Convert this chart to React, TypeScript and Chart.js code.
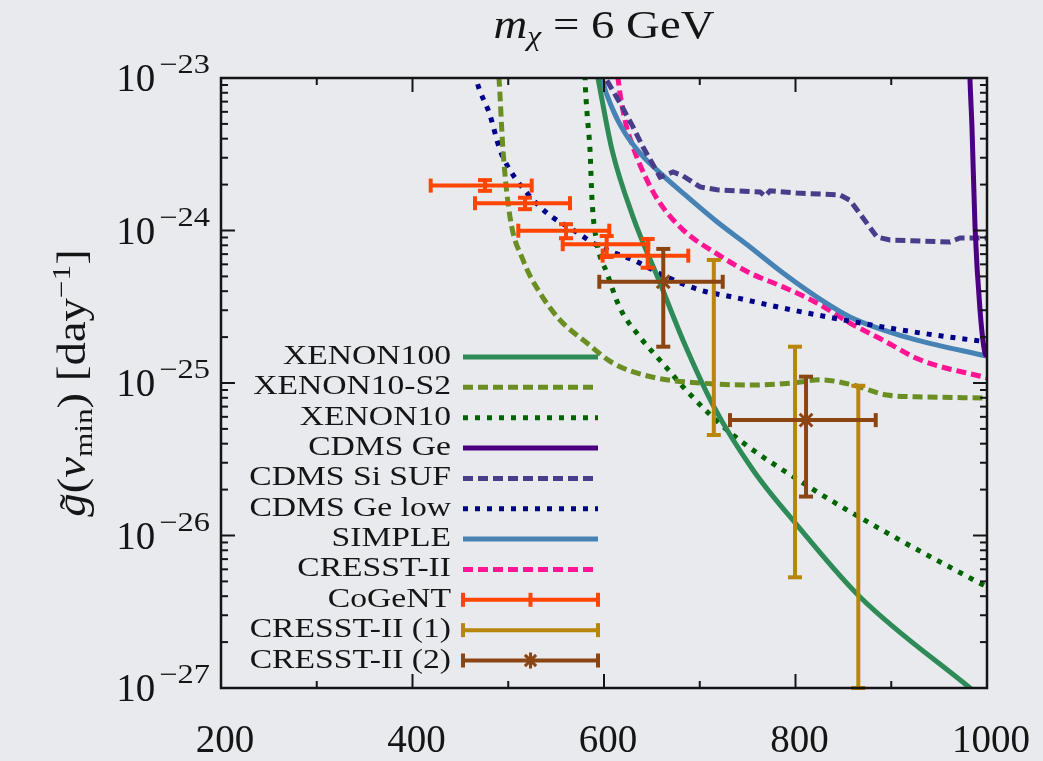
import React, { useEffect, useRef } from 'react';
import { Chart, registerables } from 'chart.js';

Chart.register(...registerables);

const SERIF = '"Liberation Serif", "DejaVu Serif", serif';
const BG = '#e8eaee';
const INK = '#151515';

// ---- axes ----
const xMin = 200;
const xMax = 1000;
const yMin = 1e-27;
const yMax = 1e-23;
const xTickLabels = [200, 400, 600, 800, 1000];
const xMinorTicks = [300, 500, 700, 900];
const yTickExponents = [-23, -24, -25, -26, -27];

// ---- limit curves ----
const xenon100X = [588, 593.7, 608.4, 630.3, 658.5, 682.5, 714.9, 755.6, 801.6, 867.4, 982.2, 1000];
const xenon100Y = [1.55e-23, 1.0e-23, 3.37e-24, 1.23e-24, 4.53e-25, 1.91e-25, 6.97e-26, 2.69e-26, 1.17e-26, 3.95e-27, 1.0e-27, 8.1e-28];

const xenon10S2X = [487, 490.3, 494.5, 501.8, 515.4, 533.2, 554.0, 582.2, 609.4, 651.2, 700.3, 752.5, 797.4, 825.6, 860.1, 895.6, 935, 1000];
const xenon10S2Y = [1.6e-23, 1.0e-23, 3.37e-24, 1.23e-24, 6.41e-25, 3.89e-25, 2.59e-25, 1.83e-25, 1.35e-25, 1.09e-25, 1.0e-25, 9.7e-26, 1.0e-25, 1.05e-25, 9.7e-26, 8.34e-26, 8.1e-26, 7.98e-26];

const xenon10X = [579.5, 580.2, 582.3, 585.4, 587.5, 592.7, 603.1, 616.7, 637.6, 663.0, 687.5, 730.8, 807.8, 895.6, 1000];
const xenon10Y = [1.5e-23, 1.0e-23, 5.89e-24, 3.37e-24, 1.58e-24, 8.28e-25, 5.26e-25, 3.10e-25, 2.0e-25, 1.31e-25, 8.73e-26, 4.78e-26, 2.21e-26, 1.04e-26, 4.59e-27];

const cdmsGeX = [981.5, 982.2, 984.3, 987.5, 992.7, 997.9, 1000];
const cdmsGeY = [1.5e-23, 1.0e-23, 4.78e-24, 1.05e-24, 3.01e-25, 1.57e-25, 1.5e-25];

const cdmsSiX = [600, 602.7, 616.7, 630.3, 640.7, 658.5, 672.1, 682.5, 700.3, 718.0, 762.9, 768.1, 773.4, 801.6, 846.5, 856.9, 885.1, 898.7, 961.4, 971.8, 1000];
const cdmsSiY = [1.2e-23, 9.7e-24, 6.86e-24, 4.78e-24, 3.53e-24, 2.24e-24, 2.42e-24, 2.28e-24, 1.93e-24, 1.85e-24, 1.79e-24, 1.68e-24, 1.82e-24, 1.76e-24, 1.71e-24, 1.58e-24, 9.06e-25, 8.67e-25, 8.41e-25, 8.93e-25, 8.93e-25];

const cdmsGeLowX = [463, 466.3, 480.9, 491.4, 501.8, 519.6, 540.5, 567.6, 595.8, 630.3, 665.8, 700.3, 734.7, 786.9, 839.2, 891.4, 943.6, 1000];
const cdmsGeLowY = [1.3e-23, 1.0e-23, 5.71e-24, 3.37e-24, 2.49e-24, 1.76e-24, 1.30e-24, 1.01e-24, 7.80e-25, 6.41e-25, 4.95e-25, 4.07e-25, 3.66e-25, 3.10e-25, 2.67e-25, 2.33e-25, 2.07e-25, 1.86e-25];

const simpleX = [596, 597.9, 609.4, 621.9, 637.6, 655.4, 682.5, 718.0, 752.5, 787.0, 822.4, 856.9, 891.4, 926.9, 1000];
const simpleY = [1.2e-23, 1.0e-23, 6.17e-24, 4.36e-24, 3.22e-24, 2.49e-24, 1.76e-24, 1.14e-24, 7.80e-25, 5.26e-25, 3.66e-25, 2.71e-25, 2.23e-25, 1.91e-25, 1.50e-25];

const cresstX = [613, 614.6, 621.9, 630.3, 644.9, 658.5, 682.5, 718.0, 752.5, 786.9, 822.4, 856.9, 891.4, 930.0, 1000];
const cresstY = [1.3e-23, 1.0e-23, 5.31e-24, 3.53e-24, 2.14e-24, 1.51e-24, 1.01e-24, 7.02e-25, 5.26e-25, 4.27e-25, 3.35e-25, 2.47e-25, 1.91e-25, 1.42e-25, 1.08e-25];

// ---- data points with error bars ----
const cogentX = [475.7, 517.5, 560.3, 602.8, 645.6];
const cogentXlo = [419.0, 465.3, 510.5, 556.9, 598.6];
const cogentXhi = [524.5, 564.5, 605.5, 646.3, 688.0];
const cogentY = [1.97e-24, 1.51e-24, 9.97e-25, 8.13e-25, 6.84e-25];
const cogentYlo = [1.82e-24, 1.38e-24, 8.9e-25, 6.7e-25, 5.7e-25];
const cogentYhi = [2.14e-24, 1.64e-24, 1.10e-24, 9.2e-25, 8.8e-25];

const cresst1X = [714.7, 799.5, 865.6];
const cresst1Y = [2.56e-25, 3.03e-26, 2.02e-26];
const cresst1Ylo = [4.56e-26, 5.32e-27, 1.0e-27];
const cresst1Yhi = [6.41e-25, 1.73e-25, 9.59e-26];

const cresst2X = [661.9, 811.0];
const cresst2Xlo = [595.1, 731.6];
const cresst2Xhi = [724.0, 883.8];
const cresst2Y = [4.61e-25, 5.71e-26];
const cresst2Ylo = [1.73e-25, 1.80e-26];
const cresst2Yhi = [7.57e-25, 1.10e-25];

const DASH = [10, 5];
const DOT = [5, 7];

type LineSpec = { label: string; xs: number[]; ys: number[]; color: string; dash: number[]; straight?: boolean };

const lineSpecs: LineSpec[] = [
  { label: 'XENON100', xs: xenon100X, ys: xenon100Y, color: '#2e8b57', dash: [] },
  { label: 'XENON10-S2', xs: xenon10S2X, ys: xenon10S2Y, color: '#6b8e23', dash: DASH },
  { label: 'XENON10', xs: xenon10X, ys: xenon10Y, color: '#006400', dash: DOT },
  { label: 'CDMS Ge', xs: cdmsGeX, ys: cdmsGeY, color: '#4b0082', dash: [] },
  { label: 'CDMS Si SUF', xs: cdmsSiX, ys: cdmsSiY, color: '#483d8b', dash: DASH, straight: true },
  { label: 'CDMS Ge low', xs: cdmsGeLowX, ys: cdmsGeLowY, color: '#00008b', dash: DOT },
  { label: 'SIMPLE', xs: simpleX, ys: simpleY, color: '#4682b4', dash: [] },
  { label: 'CRESST-II', xs: cresstX, ys: cresstY, color: '#ff1493', dash: DASH },
];

type PointSpec = { label: string; color: string; kind: 'cogent' | 'c1' | 'c2' };
const pointSpecs: PointSpec[] = [
  { label: 'CoGeNT', color: '#ff4500', kind: 'cogent' },
  { label: 'CRESST-II (1)', color: '#b8860b', kind: 'c1' },
  { label: 'CRESST-II (2)', color: '#8b4513', kind: 'c2' },
];

type Run = { t: string; f: string; dy?: number };

function runsWidth(ctx: CanvasRenderingContext2D, runs: Run[], sx: number) {
  let w = 0;
  for (const r of runs) {
    ctx.font = r.f;
    w += ctx.measureText(r.t).width * sx;
  }
  return w;
}

function drawRuns(ctx: CanvasRenderingContext2D, runs: Run[], x: number, y: number, sx: number) {
  let cx = x;
  for (const r of runs) {
    ctx.font = r.f;
    const w = ctx.measureText(r.t).width;
    ctx.save();
    ctx.translate(cx, y + (r.dy || 0));
    ctx.scale(sx, 1);
    ctx.textAlign = 'left';
    ctx.textBaseline = 'alphabetic';
    ctx.fillText(r.t, 0, 0);
    ctx.restore();
    cx += w * sx;
  }
  return cx;
}

function drawTextScaled(ctx: CanvasRenderingContext2D, t: string, x: number, y: number, font: string, align: 'left' | 'right' | 'center', sx: number) {
  ctx.font = font;
  const w = ctx.measureText(t).width * sx;
  let sxPos = x;
  if (align === 'right') sxPos = x - w;
  if (align === 'center') sxPos = x - w / 2;
  ctx.save();
  ctx.translate(sxPos, y);
  ctx.scale(sx, 1);
  ctx.textAlign = 'left';
  ctx.fillText(t, 0, 0);
  ctx.restore();
}

function seg(ctx: CanvasRenderingContext2D, x1: number, y1: number, x2: number, y2: number) {
  ctx.beginPath();
  ctx.moveTo(x1, y1);
  ctx.lineTo(x2, y2);
  ctx.stroke();
}

const CAP = 7;
const EB_WIDTH = 4;

const decorations = {
  id: 'decorations',
  beforeDraw(chart: any) {
    const { ctx, width, height } = chart;
    ctx.save();
    ctx.fillStyle = BG;
    ctx.fillRect(0, 0, width, height);
    ctx.restore();
  },
  afterDatasetsDraw(chart: any) {
    const { ctx, chartArea: a, scales } = chart;
    const sx = scales.x;
    const sy = scales.y;
    // error bars
    ctx.save();
    ctx.beginPath();
    ctx.rect(a.left - 4, a.top - 4, a.right - a.left + 8, a.bottom - a.top + 8);
    ctx.clip();
    chart.data.datasets.forEach((ds: any) => {
      const eb = ds.errorBars;
      if (!eb) return;
      ctx.strokeStyle = ds.borderColor;
      ctx.lineWidth = EB_WIDTH;
      ctx.setLineDash([]);
      ctx.lineCap = 'butt';
      ds.data.forEach((p: any, i: number) => {
        const px = sx.getPixelForValue(p.x);
        const py = sy.getPixelForValue(p.y);
        if (eb.xlo) {
          const l = sx.getPixelForValue(eb.xlo[i]);
          const r = sx.getPixelForValue(eb.xhi[i]);
          seg(ctx, l, py, r, py);
          seg(ctx, l, py - CAP, l, py + CAP);
          seg(ctx, r, py - CAP, r, py + CAP);
        }
        if (eb.ylo) {
          const b = sy.getPixelForValue(eb.ylo[i]);
          const t = sy.getPixelForValue(eb.yhi[i]);
          seg(ctx, px, b, px, t);
          seg(ctx, px - CAP, b, px + CAP, b);
          seg(ctx, px - CAP, t, px + CAP, t);
        }
      });
    });
    ctx.restore();

    // frame + inward ticks
    ctx.save();
    ctx.strokeStyle = INK;
    ctx.lineWidth = 2.5;
    ctx.setLineDash([]);
    ctx.strokeRect(a.left, a.top, a.right - a.left, a.bottom - a.top);
    ctx.lineWidth = 2;
    const xt = [...xTickLabels.map((v) => [v, 14]), ...xMinorTicks.map((v) => [v, 7])];
    xt.forEach(([v, len]) => {
      if (v <= xMin || v >= xMax) return;
      const p = sx.getPixelForValue(v);
      seg(ctx, p, a.bottom, p, a.bottom - len);
      seg(ctx, p, a.top, p, a.top + len);
    });
    yTickExponents.forEach((e) => {
      for (let k = 1; k <= 9; k++) {
        const v = k * Math.pow(10, e);
        if (v <= yMin * 1.0001 || v >= yMax * 0.9999) continue;
        const p = sy.getPixelForValue(v);
        const len = k === 1 ? 14 : 7;
        seg(ctx, a.left, p, a.left + len, p);
        seg(ctx, a.right, p, a.right - len, p);
      }
    });
    ctx.restore();
  },
  afterDraw(chart: any) {
    const { ctx, chartArea: a, scales } = chart;
    const sx = scales.x;
    const sy = scales.y;
    ctx.save();
    ctx.fillStyle = INK;

    // y tick labels
    yTickExponents.forEach((e) => {
      const p = sy.getPixelForValue(Math.pow(10, e));
      const sup = '\u2212' + String(-e);
      const supFont = `27px ${SERIF}`;
      ctx.font = supFont;
      const supW = ctx.measureText(sup).width * 1.2;
      const right = a.left - 11;
      drawTextScaled(ctx, sup, right - supW, p - 5, supFont, 'left', 1.2);
      drawTextScaled(ctx, '10', right - supW - 4, p + 13, `39px ${SERIF}`, 'right', 1.0);
    });

    // x tick labels
    xTickLabels.forEach((v) => {
      const p = sx.getPixelForValue(v);
      drawTextScaled(ctx, String(v), p + 4, 752, `39px ${SERIF}`, 'center', 1.0);
    });

    // title
    const titleRuns: Run[] = [
      { t: 'm', f: `italic 40px ${SERIF}` },
      { t: '\u03c7', f: `italic 27px ${SERIF}`, dy: 7 },
      { t: ' = 6 GeV', f: `40px ${SERIF}` },
    ];
    const tsx = 1.17;
    const tw = runsWidth(ctx, titleRuns, tsx);
    drawRuns(ctx, titleRuns, (a.left + a.right) / 2 - tw / 2, 38, tsx);

    // y axis title (rotated)
    const ysx = 1.2;
    const yRuns: Run[] = [
      { t: 'g', f: `italic 39px ${SERIF}` },
      { t: '(', f: `39px ${SERIF}` },
      { t: 'v', f: `italic 39px ${SERIF}` },
      { t: 'min', f: `26px ${SERIF}`, dy: 7 },
      { t: ')', f: `39px ${SERIF}` },
      { t: ' [day', f: `39px ${SERIF}` },
      { t: '\u22121', f: `26px ${SERIF}`, dy: -15 },
      { t: ']', f: `39px ${SERIF}` },
    ];
    const yw = runsWidth(ctx, yRuns, ysx);
    ctx.save();
    ctx.translate(85, (a.top + a.bottom) / 2);
    ctx.rotate(-Math.PI / 2);
    const startX = -yw / 2;
    drawRuns(ctx, yRuns, startX, 0, ysx);
    ctx.font = `italic 39px ${SERIF}`;
    const gw = ctx.measureText('g').width * ysx;
    drawTextScaled(ctx, '\u02dc', startX + gw / 2 + 3, 2, `39px ${SERIF}`, 'center', ysx);
    ctx.restore();

    // legend
    const lx1 = 463;
    const lx2 = 598;
    const textRight = 451;
    const rowY0 = 357;
    const rowStep = 30.35;
    const lfont = `28px ${SERIF}`;
    const entries: Array<{ label: string; draw: (y: number) => void }> = [];
    lineSpecs.forEach((s) => {
      entries.push({
        label: s.label,
        draw: (y) => {
          ctx.save();
          ctx.strokeStyle = s.color;
          ctx.lineWidth = 5;
          ctx.lineCap = 'butt';
          ctx.setLineDash(s.dash);
          seg(ctx, lx1, y, lx2, y);
          ctx.restore();
        },
      });
    });
    pointSpecs.forEach((s) => {
      entries.push({
        label: s.label,
        draw: (y) => {
          ctx.save();
          ctx.strokeStyle = s.color;
          ctx.lineWidth = EB_WIDTH;
          ctx.setLineDash([]);
          seg(ctx, lx1, y, lx2, y);
          seg(ctx, lx1, y - CAP, lx1, y + CAP);
          seg(ctx, lx2, y - CAP, lx2, y + CAP);
          const mid = (lx1 + lx2) / 2;
          if (s.kind === 'cogent') seg(ctx, mid, y - CAP, mid, y + CAP);
          if (s.kind === 'c2') {
            const r = 8;
            ctx.lineWidth = 3;
            seg(ctx, mid - r * 0.7, y - r * 0.7, mid + r * 0.7, y + r * 0.7);
            seg(ctx, mid - r * 0.7, y + r * 0.7, mid + r * 0.7, y - r * 0.7);
            seg(ctx, mid, y - r, mid, y + r);
          }
          ctx.restore();
        },
      });
    });
    entries.forEach((en, i) => {
      const y = rowY0 + i * rowStep;
      ctx.fillStyle = INK;
      drawTextScaled(ctx, en.label, textRight, y + 7, lfont, 'right', 1.2);
      en.draw(y);
    });
    ctx.restore();
  },
};

export default function App() {
  const canvasRef = useRef<HTMLCanvasElement | null>(null);

  useEffect(() => {
    const canvas = canvasRef.current;
    if (!canvas) return;
    const datasets: any[] = [];
    lineSpecs.forEach((s) => {
      datasets.push({
        label: s.label,
        data: s.xs.map((x, i) => ({ x, y: s.ys[i] })),
        showLine: true,
        borderColor: s.color,
        backgroundColor: s.color,
        borderWidth: 5,
        borderDash: s.dash,
        borderCapStyle: 'butt',
        pointRadius: 0,
        fill: false,
        cubicInterpolationMode: s.straight ? 'default' : 'monotone',
        tension: 0,
      });
    });
    datasets.push({
      label: 'CoGeNT',
      data: cogentX.map((x, i) => ({ x, y: cogentY[i] })),
      borderColor: '#ff4500',
      backgroundColor: '#ff4500',
      pointRadius: 0,
      showLine: false,
      errorBars: { xlo: cogentXlo, xhi: cogentXhi, ylo: cogentYlo, yhi: cogentYhi },
    });
    datasets.push({
      label: 'CRESST-II (1)',
      data: cresst1X.map((x, i) => ({ x, y: cresst1Y[i] })),
      borderColor: '#b8860b',
      backgroundColor: '#b8860b',
      pointRadius: 0,
      showLine: false,
      errorBars: { ylo: cresst1Ylo, yhi: cresst1Yhi },
    });
    datasets.push({
      label: 'CRESST-II (2)',
      data: cresst2X.map((x, i) => ({ x, y: cresst2Y[i] })),
      borderColor: '#8b4513',
      backgroundColor: '#8b4513',
      pointStyle: 'star',
      pointRadius: 9,
      pointBorderWidth: 3,
      showLine: false,
      errorBars: { xlo: cresst2Xlo, xhi: cresst2Xhi, ylo: cresst2Ylo, yhi: cresst2Yhi },
    });

    const chart = new Chart(canvas, {
      type: 'scatter',
      data: { datasets },
      options: {
        animation: false,
        responsive: false,
        events: [],
        layout: { padding: { left: 221, top: 78, right: 56, bottom: 73 } },
        scales: {
          x: { type: 'linear', min: xMin, max: xMax, display: false },
          y: { type: 'logarithmic', min: yMin, max: yMax, display: false },
        },
        plugins: {
          legend: { display: false },
          title: { display: false },
          tooltip: { enabled: false },
        },
      },
      plugins: [decorations],
    } as any);
    return () => chart.destroy();
  }, []);

  return (
    <div style={{ position: 'absolute', left: 0, top: 0, width: 1043, height: 761, background: BG }}>
      <canvas ref={canvasRef} width={1043} height={761} style={{ display: 'block', width: 1043, height: 761 }} />
    </div>
  );
}
